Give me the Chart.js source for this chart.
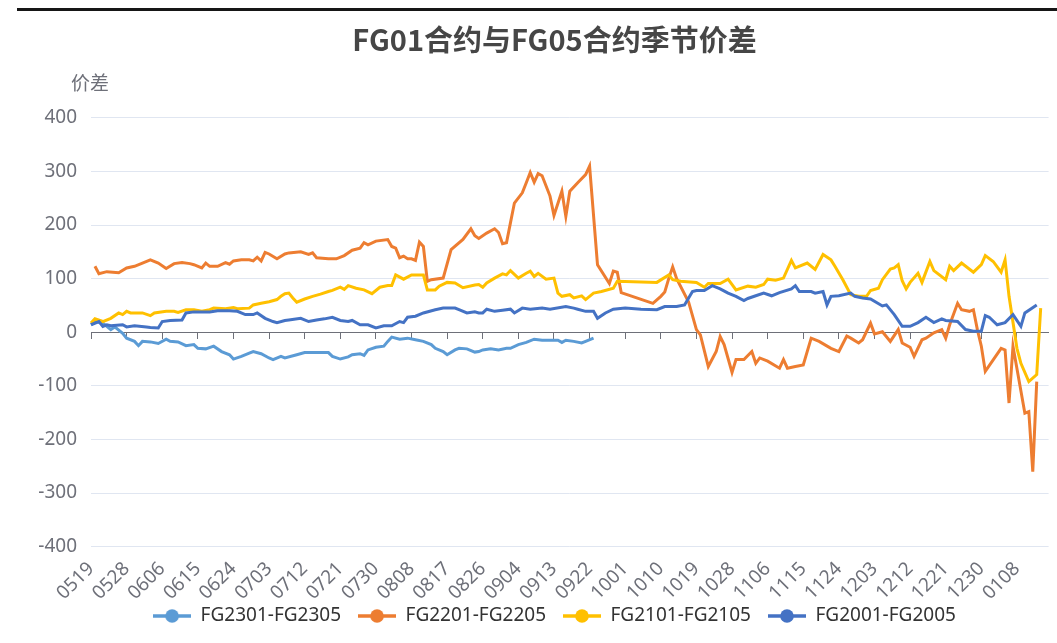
<!DOCTYPE html>
<html>
<head>
<meta charset="utf-8">
<script src="https://cdn.jsdelivr.net/npm/chart.js@4.4.1/dist/chart.umd.min.js"></script>
<style>
html,body{margin:0;padding:0;background:#fff;}
#wrap{position:relative;width:1057px;height:643px;overflow:hidden;}
#c{position:absolute;left:0;top:0;}
#topline{position:absolute;left:17px;right:0;top:8px;height:3px;background:#161616;}
</style>
</head>
<body>
<div id="wrap"><canvas id="c" width="1057" height="643"></canvas><div id="topline"></div></div>
<script>
// ---------- data ----------
const chartTitle = 'FG01合约与FG05合约季节价差';
const yAxisName = '价差';
const seriesNames = ['FG2301-FG2305', 'FG2201-FG2205', 'FG2101-FG2105', 'FG2001-FG2005'];
const seriesColors = ['#5B9BD5', '#ED7D31', '#FFC000', '#4472C4'];

// calendar categories: month, first day, last day
const categoryMonths = [['05',19,31],['06',1,30],['07',1,31],['08',1,31],['09',1,30],['10',1,31],['11',1,30],['12',1,31],['01',1,16]];

// labels shown on the x axis
const tickLabels = ['0519','0528','0606','0615','0624','0703','0712','0721','0730','0808','0817','0826','0904','0913','0922','1001','1010','1019','1028','1106','1115','1124','1203','1212','1221','1230','0108'];

const yTicks = [-400,-300,-200,-100,0,100,200,300,400];

// [date, spread]
const fg2301 = [['0519',14],['0520',20],['0522',17],['0524',5],['0525',10],['0527',-2],['0528',-11],['0530',-17],['0531',-25],['0601',-17],['0603',-18],['0605',-21],['0607',-13],['0608',-17],['0610',-18],['0612',-25],['0614',-23],['0615',-30],['0617',-31],['0619',-26],['0621',-36],['0623',-42],['0624',-50],['0626',-45],['0628',-39],['0629',-36],['0701',-40],['0703',-48],['0704',-51],['0706',-45],['0707',-48],['0710',-42],['0712',-38],['0714',-38],['0718',-38],['0719',-45],['0721',-50],['0723',-46],['0724',-42],['0726',-40],['0727',-43],['0728',-33],['0730',-28],['0801',-26],['0802',-17],['0803',-9],['0805',-13],['0807',-11],['0809',-14],['0811',-17],['0813',-23],['0814',-30],['0816',-36],['0817',-42],['0819',-33],['0820',-30],['0822',-31],['0824',-37],['0825',-36],['0826',-33],['0828',-31],['0830',-33],['0901',-30],['0902',-30],['0904',-23],['0906',-19],['0908',-13],['0910',-15],['0912',-15],['0914',-15],['0915',-19],['0916',-15],['0918',-17],['0920',-20],['0921',-17],['0923',-11]];

const fg2201 = [['0520',123],['0521',109],['0523',113],['0526',111],['0528',120],['0530',123],['0601',129],['0603',135],['0605',129],['0607',119],['0609',128],['0611',130],['0613',128],['0614',126],['0616',120],['0617',129],['0618',123],['0620',123],['0622',130],['0623',127],['0624',133],['0626',135],['0628',135],['0629',133],['0630',140],['0701',133],['0702',149],['0703',146],['0705',137],['0707',146],['0708',148],['0711',150],['0713',145],['0714',148],['0715',139],['0718',137],['0720',137],['0722',143],['0724',153],['0726',157],['0727',167],['0728',163],['0730',170],['0802',173],['0803',160],['0804',157],['0805',139],['0806',142],['0807',137],['0808',137],['0809',134],['0810',168],['0811',160],['0812',95],['0813',98],['0816',101],['0818',154],['0821',173],['0823',193],['0824',180],['0825',175],['0827',185],['0829',193],['0830',186],['0831',165],['0901',167],['0902',204],['0903',241],['0905',260],['0906',279],['0907',298],['0908',280],['0909',296],['0910',292],['0912',254],['0913',218],['0915',263],['0916',216],['0917',263],['0919',279],['0921',294],['0922',310],['0924',126],['0927',91],['0928',114],['0929',112],['0930',74],['1008',54],['1010',67],['1011',75],['1012',100],['1013',122],['1014',100],['1017',57],['1019',5],['1020',-5],['1022',-64],['1024',-36],['1025',-8],['1026',-23],['1028',-75],['1029',-51],['1031',-51],['1102',-36],['1103',-58],['1104',-48],['1106',-54],['1109',-67],['1110',-51],['1111',-67],['1113',-64],['1115',-61],['1117',-11],['1119',-17],['1122',-30],['1124',-36],['1126',-7],['1127',-11],['1129',-20],['1130',-14],['1202',17],['1203',-3],['1205',1],['1207',-17],['1209',5],['1210',-20],['1212',-28],['1213',-45],['1215',-14],['1216',-11],['1218',-1],['1220',5],['1221',-11],['1222',14],['1224',54],['1225',42],['1227',39],['1228',42],['1229',5],['1230',-26],['1231',-73],['0104',-30],['0105',-33],['0106',-132],['0107',-26],['0110',-151],['0111',-148],['0112',-260],['0113',-92]];

const fg2101 = [['0519',17],['0520',25],['0522',20],['0524',26],['0526',36],['0527',33],['0528',39],['0529',36],['0601',36],['0603',31],['0604',36],['0607',39],['0609',39],['0610',37],['0612',42],['0614',42],['0616',39],['0618',42],['0619',45],['0622',44],['0624',46],['0625',44],['0628',45],['0629',51],['0701',54],['0703',57],['0705',61],['0706',67],['0707',72],['0708',73],['0709',64],['0710',56],['0712',62],['0714',67],['0716',71],['0718',76],['0719',78],['0721',84],['0722',80],['0723',87],['0725',82],['0727',79],['0729',72],['0731',84],['0802',87],['0803',87],['0804',107],['0806',99],['0808',107],['0811',107],['0812',79],['0814',79],['0815',86],['0817',93],['0819',92],['0821',83],['0824',88],['0825',89],['0826',84],['0827',92],['0829',101],['0831',109],['0901',107],['0902',115],['0904',101],['0906',110],['0907',114],['0908',104],['0909',110],['0911',99],['0913',101],['0914',73],['0915',67],['0917',70],['0918',64],['0920',68],['0921',61],['0923',73],['0925',76],['0928',82],['0929',95],['1009',93],['1012',107],['1013',98],['1015',95],['1019',93],['1021',84],['1022',91],['1025',91],['1027',99],['1029',79],['1101',86],['1103',84],['1105',89],['1106',99],['1108',97],['1110',101],['1112',134],['1113',120],['1116',129],['1118',117],['1120',145],['1122',135],['1123',123],['1125',98],['1127',70],['1129',67],['1201',67],['1202',78],['1204',82],['1205',98],['1207',118],['1208',120],['1209',126],['1210',96],['1211',81],['1212',93],['1214',110],['1215',93],['1217',132],['1218',115],['1221',98],['1222',123],['1223',115],['1225',129],['1228',112],['1230',126],['1231',143],['0102',132],['0104',112],['0105',135],['0106',67],['0108',-30],['0109',-58],['0111',-92],['0113',-79],['0114',45]];

const fg2001 = [['0519',14],['0521',20],['0522',11],['0523',14],['0524',12],['0527',14],['0528',10],['0530',12],['0602',10],['0603',9],['0605',8],['0606',20],['0608',22],['0611',23],['0612',36],['0614',38],['0618',38],['0620',40],['0623',40],['0625',39],['0627',33],['0629',33],['0630',36],['0702',26],['0704',20],['0705',18],['0707',22],['0708',23],['0711',26],['0713',20],['0715',23],['0717',25],['0719',28],['0721',22],['0723',20],['0724',22],['0726',14],['0728',14],['0730',8],['0801',12],['0803',12],['0805',20],['0806',18],['0807',28],['0809',30],['0811',36],['0814',42],['0816',45],['0819',45],['0820',42],['0822',36],['0824',38],['0825',36],['0826',36],['0827',43],['0829',39],['0831',41],['0902',43],['0903',36],['0905',45],['0907',43],['0910',45],['0912',43],['0916',48],['0918',45],['0919',43],['0921',39],['0923',39],['0924',26],['0926',36],['0928',43],['1001',45],['1005',43],['1009',42],['1011',48],['1014',48],['1016',51],['1018',76],['1019',78],['1021',78],['1023',87],['1025',81],['1027',73],['1029',67],['1031',59],['1101',63],['1103',68],['1105',73],['1107',68],['1109',74],['1112',81],['1113',87],['1114',76],['1117',76],['1118',73],['1120',76],['1121',51],['1122',67],['1124',68],['1127',73],['1128',67],['1130',64],['1202',62],['1205',49],['1206',51],['1208',33],['1210',11],['1212',11],['1214',18],['1216',28],['1218',18],['1220',25],['1221',22],['1224',20],['1226',5],['1228',2],['1230',2],['1231',31],['0101',28],['0103',14],['0105',18],['0107',33],['0109',11],['0110',36],['0113',51]];

const seriesData = [fg2301, fg2201, fg2101, fg2001];

// ---------- build ----------
const categories = [];
categoryMonths.forEach(([m, a, b]) => { for (let d = a; d <= b; d++) categories.push(m + String(d).padStart(2, '0')); });
const catIndex = new Map(categories.map((c, i) => [c, i]));
const tickSet = new Set(tickLabels);

function alignSeries(pairs) {
  const arr = new Array(categories.length).fill(null);
  pairs.forEach(([d, v]) => { arr[catIndex.get(d)] = v; });
  return arr;
}

function makeIcon(color) {
  const cv = document.createElement('canvas');
  cv.width = 38; cv.height = 16;
  const g = cv.getContext('2d');
  g.strokeStyle = color; g.lineWidth = 3.3;
  g.beginPath(); g.moveTo(0, 8); g.lineTo(38, 8); g.stroke();
  g.fillStyle = color;
  g.beginPath(); g.arc(19, 8, 6.8, 0, Math.PI * 2); g.fill();
  return cv;
}
const icons = seriesColors.map(makeIcon);

const FONT = '"Noto Sans", "Noto Sans CJK SC", sans-serif';
const AXIS_COLOR = '#6E7079';

const datasets = seriesNames.map((name, i) => ({
  label: name,
  data: alignSeries(seriesData[i]),
  borderColor: seriesColors[i],
  backgroundColor: seriesColors[i],
  borderWidth: 3,
  pointRadius: 0,
  pointHoverRadius: 0,
  tension: 0,
  spanGaps: true,
  fill: false,
  order: seriesNames.length - 1 - i
}));

const axisNamePlugin = {
  id: 'axisName',
  afterDraw(chart) {
    const {ctx, chartArea} = chart;
    ctx.save();
    ctx.font = '19px ' + FONT;
    ctx.fillStyle = AXIS_COLOR;
    ctx.textAlign = 'center';
    ctx.textBaseline = 'middle';
    ctx.fillText(yAxisName, chartArea.left - 1, chartArea.top - 33);
    ctx.restore();
  }
};

const noClip = () => null;

new Chart(document.getElementById('c'), {
  type: 'line',
  data: { labels: categories, datasets },
  plugins: [axisNamePlugin],
  options: {
    responsive: false,
    animation: false,
    devicePixelRatio: 1,
    events: [],
    layout: { padding: { left: 60.4, right: 8.4, top: 0, bottom: 7.5 } },
    scales: {
      x: {
        position: 'bottom',
        grid: { display: false },
        border: { display: false },
        ticks: {
          autoSkip: false,
          minRotation: 45,
          maxRotation: 45,
          padding: 3,
          color: AXIS_COLOR,
          font: { size: 19, family: FONT },
          callback: (v, i) => tickSet.has(categories[i]) ? categories[i] : null
        },
        afterFit: (s) => { s.height = 42.8; s.paddingLeft = 0; s.paddingRight = 0; s._computeLabelArea = noClip; }
      },
      x2: {
        type: 'category',
        position: { y: 0 },
        ticks: { display: false, autoSkip: false },
        grid: {
          display: true,
          drawOnChartArea: false,
          drawTicks: true,
          tickLength: 6,
          tickWidth: 1,
          tickColor: (ctx) => tickSet.has(categories[ctx.index]) ? AXIS_COLOR : 'rgba(0,0,0,0)'
        },
        border: { display: true, color: AXIS_COLOR, width: 1 },
        afterFit: (s) => { s.paddingLeft = 0; s.paddingRight = 0; }
      },
      y: {
        min: yTicks[0],
        max: yTicks[yTicks.length - 1],
        afterBuildTicks: (s) => { s.ticks = yTicks.map(v => ({ value: v })); },
        ticks: { color: AXIS_COLOR, padding: 14, font: { size: 19, family: FONT } },
        grid: { color: (ctx) => (ctx.tick && ctx.tick.value === 0) ? 'rgba(0,0,0,0)' : '#E0E6F1', drawTicks: false, lineWidth: 1 },
        border: { display: false },
        afterFit: (s) => { s.width = 30.6; s._computeLabelArea = noClip; }
      }
    },
    plugins: {
      title: {
        display: true,
        text: chartTitle,
        color: '#464646',
        font: { size: 29, weight: 'bold', family: '"Noto Sans CJK SC", "Noto Sans", sans-serif' },
        padding: { top: 23, bottom: 60 }
      },
      legend: {
        position: 'bottom',
        labels: {
          usePointStyle: true,
          pointStyleWidth: 38,
          padding: 17,
          color: '#333333',
          font: { size: 19, family: FONT },
          sort: (a, b) => a.datasetIndex - b.datasetIndex,
          generateLabels: (chart) => {
            const items = Chart.defaults.plugins.legend.labels.generateLabels(chart);
            items.forEach(it => { it.pointStyle = icons[it.datasetIndex]; });
            return items;
          }
        }
      },
      tooltip: { enabled: false }
    }
  }
});
</script>
</body>
</html>
